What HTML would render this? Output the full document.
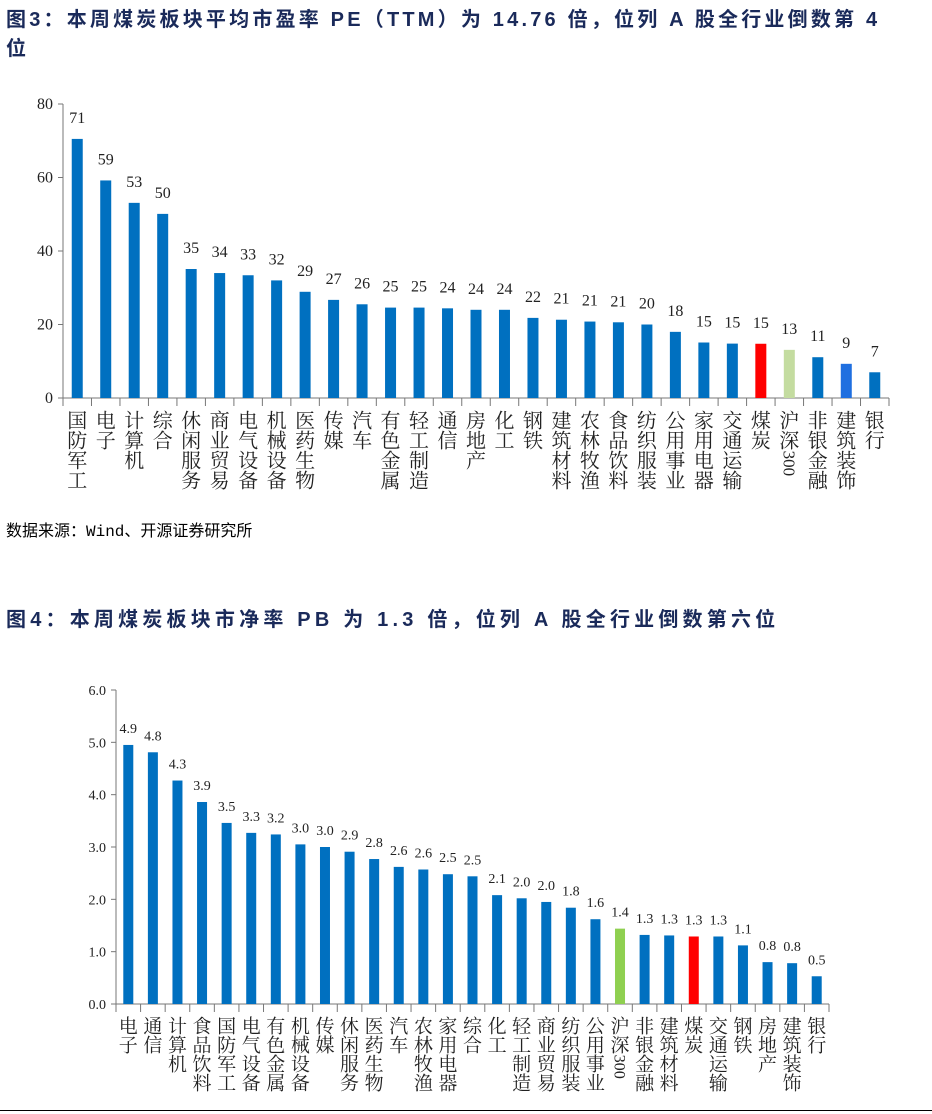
<!DOCTYPE html>
<html><head><meta charset="utf-8">
<style>
body{margin:0;width:932px;height:1114px;background:#fff;position:relative;overflow:hidden;font-family:"Liberation Serif","Noto Serif CJK SC",serif;}
.t{position:absolute;left:6px;font-family:"Liberation Sans","Noto Sans CJK SC",sans-serif;font-weight:bold;font-size:20px;color:#1a2a5a;white-space:nowrap;}
.src{position:absolute;left:6px;top:517px;font-family:"Liberation Mono","Noto Sans CJK SC",monospace;font-size:16px;color:#000;}
</style></head><body>
<div class="t" style="top:6px;line-height:29px;letter-spacing:3.2px;">图3：本周煤炭板块平均市盈率 PE（TTM）为 14.76 倍，位列 A 股全行业倒数第 4<br>位</div>
<div class="src">数据来源：Wind、开源证券研究所</div>
<div class="t" style="top:603px;letter-spacing:4.2px;">图4：本周煤炭板块市净率 PB 为 1.3 倍，位列 A 股全行业倒数第六位</div>
<div style="position:absolute;left:0;top:1110px;width:932px;height:1px;background:#000"></div>
<svg id="c1" width="932" height="510" style="position:absolute;left:0;top:0"></svg>
<svg id="c2" width="932" height="1114" style="position:absolute;left:0;top:0"></svg>
<script>
const peCategories=["国防军工","电子","计算机","综合","休闲服务","商业贸易","电气设备","机械设备","医药生物","传媒","汽车","有色金属","轻工制造","通信","房地产","化工","钢铁","建筑材料","农林牧渔","食品饮料","纺织服装","公用事业","家用电器","交通运输","煤炭","沪深300","非银金融","建筑装饰","银行"];
const peValues=[70.5,59.2,53.1,50.1,35.1,34.0,33.4,32.0,28.9,26.7,25.5,24.6,24.6,24.4,24.0,24.0,21.8,21.3,20.8,20.6,20.0,18.0,15.1,14.8,14.76,13.1,11.1,9.3,7.0];
const peLabels=["71","59","53","50","35","34","33","32","29","27","26","25","25","24","24","24","22","21","21","21","20","18","15","15","15","13","11","9","7"];
const peTicks=[0,20,40,60,80];
const pbCategories=["电子","通信","计算机","食品饮料","国防军工","电气设备","有色金属","机械设备","传媒","休闲服务","医药生物","汽车","农林牧渔","家用电器","综合","化工","轻工制造","商业贸易","纺织服装","公用事业","沪深300","非银金融","建筑材料","煤炭","交通运输","钢铁","房地产","建筑装饰","银行"];
const pbValues=[4.95,4.81,4.27,3.86,3.46,3.27,3.24,3.05,3.00,2.91,2.77,2.62,2.57,2.48,2.44,2.08,2.02,1.95,1.84,1.62,1.44,1.32,1.31,1.29,1.29,1.12,0.80,0.78,0.53];
const pbLabels=["4.9","4.8","4.3","3.9","3.5","3.3","3.2","3.0","3.0","2.9","2.8","2.6","2.6","2.5","2.5","2.1","2.0","2.0","1.8","1.6","1.4","1.3","1.3","1.3","1.3","1.1","0.8","0.8","0.5"];
const pbTicks=[0,1,2,3,4,5,6];
const NS="http://www.w3.org/2000/svg";
function mk(svg,tag,attrs){const e=document.createElementNS(NS,tag);for(const k in attrs)e.setAttribute(k,attrs[k]);svg.appendChild(e);return e;}
function draw(svg,cats,vals,labels,ticks,o){
  const n=cats.length,step=(o.x1-o.x0)/n,max=ticks[ticks.length-1];
  const y=v=>o.y0-(v/max)*(o.y0-o.yt);
  const ax=mk(svg,'line',{x1:o.x0,y1:o.yt,x2:o.x0,y2:o.y0,stroke:'#777'});
  
  const bx=mk(svg,'line',{x1:o.x0,y1:o.y0,x2:o.x1,y2:o.y0,stroke:'#777'});
  
  ticks.forEach(t=>{
    mk(svg,'line',{x1:o.x0-5,y1:y(t),x2:o.x0,y2:y(t),stroke:'#777'});
    const tx=mk(svg,'text',{x:o.x0-10,y:y(t)+5,'text-anchor':'end','font-size':o.tfs,fill:'#222'});
    tx.textContent=o.fmt(t);
    
  });
  for(let i=0;i<=n;i++)mk(svg,'line',{x1:o.x0+i*step,y1:o.y0,x2:o.x0+i*step,y2:o.y0+8,stroke:'#777'});
  cats.forEach((c,i)=>{
    const cx=o.x0+(i+.5)*step,v=vals[i];
    const col=c==='煤炭'?'#ff0000':c==='沪深300'?o.hs:(o.alt&&c===o.alt?'#1f6fe0':'#0070c0');
    const r=mk(svg,'rect',{x:cx-o.bw/2,y:y(v),width:o.bw,height:o.y0-y(v),fill:col});
    
    const lb=mk(svg,'text',{x:cx,y:y(v)-o.lg,'text-anchor':'middle','font-size':o.vfs,fill:'#222'});
    lb.textContent=labels[i];
    
    const ct=mk(svg,'text',{'font-size':o.cfs,fill:'#222','text-anchor':'middle','font-family':'"Liberation Serif","Noto Serif CJK SC",serif'});
    
    
    const chars=c.replace('300','\u0001').split('');
    let yy=o.y0+12+o.cfs*0.88;
    chars.forEach(ch=>{
      if(ch==='\u0001'){
        const ts=mk(ct,'tspan',{x:cx+o.cfs*0.3,y:yy-o.cfs*0.1,transform:'',});
        ts.textContent='';
        const rt=mk(svg,'text',{x:0,y:0,'font-size':o.cfs*0.85,fill:'#222','transform':`translate(${cx-o.cfs*0.3},${yy-o.cfs*0.85}) rotate(90)`});
        rt.textContent='300';
        yy+=o.cfs*1.45;
      }else{
        const ts=mk(ct,'tspan',{x:cx,y:yy});
        ts.textContent=ch;
        yy+=o.cfs;
      }
    });
  });
}
draw(document.getElementById('c1'),peCategories,peValues,peLabels,peTicks,{x0:63,x1:889,yt:104,y0:398,bw:11,tfs:16,vfs:16,cfs:20,lg:16,hs:'#c4dca0',alt:'建筑装饰',fmt:t=>t});
draw(document.getElementById('c2'),pbCategories,pbValues,pbLabels,pbTicks,{x0:116,x1:829,yt:690,y0:1004,bw:10,tfs:14,vfs:14,cfs:19,lg:12,hs:'#8fd050',fmt:t=>t.toFixed(1)});
</script>
</body></html>
